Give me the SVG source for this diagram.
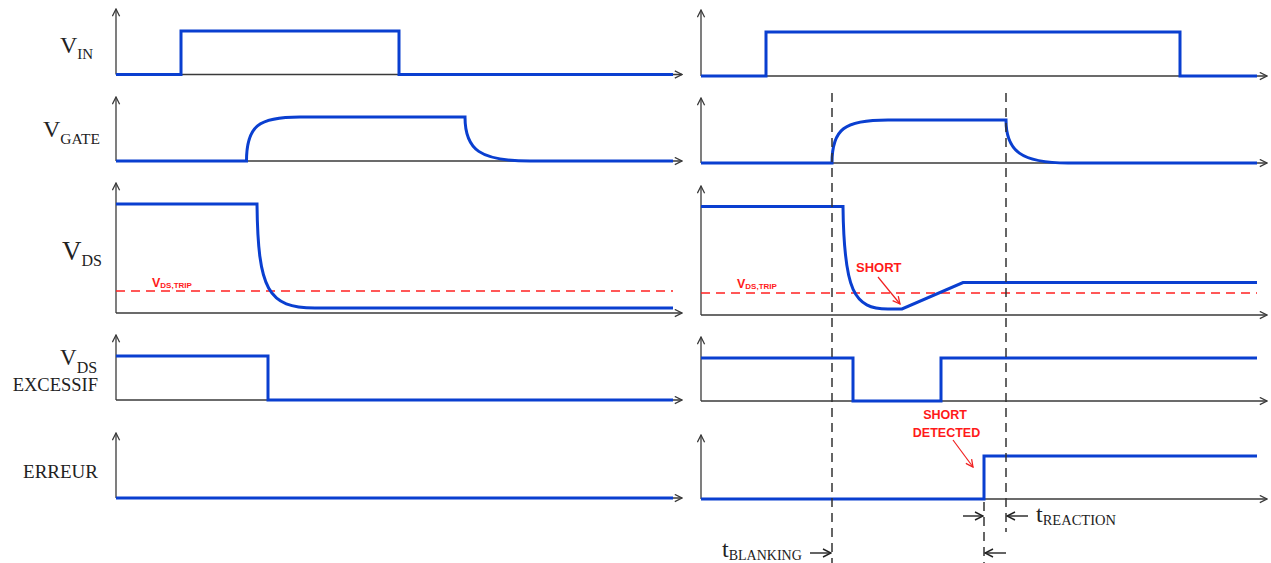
<svg xmlns="http://www.w3.org/2000/svg" width="1271" height="563" viewBox="0 0 1271 563">
<style>
.bg{fill:#ffffff}
.axis{stroke:#3a3a3a;stroke-width:1.3;fill:none}
.sig{stroke:#0a3fd0;stroke-width:3;fill:none;stroke-linejoin:miter}
.trip{stroke:#ff2020;stroke-width:1.4;fill:none;stroke-dasharray:9 6}
.guide{stroke:#333;stroke-width:1.5;fill:none;stroke-dasharray:9 6}
.tarr{stroke:#222;stroke-width:1.4;fill:none}
.rarr{stroke:#f02020;stroke-width:1.2;fill:none}
.lbl{font-family:"Liberation Serif","Times New Roman",serif;fill:#222}
.red{font-family:"Liberation Sans",Arial,sans-serif;font-weight:bold;fill:#ff1a1a}
</style>
<defs>
<marker id="ax" viewBox="0 0 10 10" refX="9" refY="5" markerWidth="9" markerHeight="9" markerUnits="userSpaceOnUse" orient="auto">
<path d="M1,1 L9,5 L1,9" fill="none" stroke="#3a3a3a" stroke-width="1.4"/>
</marker>
<marker id="tk" viewBox="0 0 10 10" refX="9" refY="5" markerWidth="10" markerHeight="10" markerUnits="userSpaceOnUse" orient="auto">
<path d="M1,1 L9,5 L1,9" fill="none" stroke="#222" stroke-width="1.4"/>
</marker>
<marker id="ra" viewBox="0 0 10 10" refX="9" refY="5" markerWidth="9" markerHeight="9" markerUnits="userSpaceOnUse" orient="auto">
<path d="M1,1 L9,5 L1,9" fill="none" stroke="#f02020" stroke-width="1.4"/>
</marker>
</defs>
<rect class="bg" x="0" y="0" width="1271" height="563"/>

<g id="row-vin">
<text class="lbl" x="60" y="53" font-size="24">V<tspan font-size="15" dy="6">IN</tspan></text>
<path class="axis" d="M116,74.5 V9" marker-end="url(#ax)"/>
<path class="axis" d="M116,74.5 H682" marker-end="url(#ax)"/>
<path class="sig" d="M116,74.5 H181 V31 H399 V74.5 H673"/>
<path class="axis" d="M701,76 V10" marker-end="url(#ax)"/>
<path class="axis" d="M701,76 H1267" marker-end="url(#ax)"/>
<path class="sig" d="M701,76 H766 V32 H1180 V76 H1257"/>
</g>

<g id="row-vgate">
<text class="lbl" x="43" y="137" font-size="24">V<tspan font-size="15.5" dy="7">GATE</tspan></text>
<path class="axis" d="M116,161 V97" marker-end="url(#ax)"/>
<path class="axis" d="M116,161 H682" marker-end="url(#ax)"/>
<path class="sig" d="M116,161 H246.5 C246.5,126 258,117 300,117 H465 C465,150 480,161 530,161 H673"/>
<path class="axis" d="M701,163 V98" marker-end="url(#ax)"/>
<path class="axis" d="M701,163 H1267" marker-end="url(#ax)"/>
<path class="sig" d="M701,163 H832 C832,129 844,120 888,120 H1006 C1006,151 1021,163 1068,163 H1257"/>
</g>

<g id="row-vds">
<text class="lbl" x="62" y="260" font-size="27">V<tspan font-size="16" dy="6">DS</tspan></text>
<path class="axis" d="M116,313 V183" marker-end="url(#ax)"/>
<path class="axis" d="M116,313 H682" marker-end="url(#ax)"/>
<path class="trip" d="M116,291 H673"/>
<text class="red" x="152" y="287" font-size="12.5">V<tspan font-size="8" dy="1">DS,TRIP</tspan></text>
<path class="sig" d="M116,204 H257 C258,290 268,308 315,308 H673"/>
<path class="axis" d="M701,315 V186" marker-end="url(#ax)"/>
<path class="axis" d="M701,315 H1267" marker-end="url(#ax)"/>
<path class="trip" d="M701,293 H1257"/>
<text class="red" x="737" y="288" font-size="12.5">V<tspan font-size="8" dy="1">DS,TRIP</tspan></text>
<path class="sig" d="M701,206.5 H843 C844,291 854,309 888,309 H902 L963,282.5 H1257"/>
<text class="red" x="856" y="272" font-size="13">SHORT</text>
<path class="rarr" d="M878,277 L900,304" marker-end="url(#ra)"/>
</g>

<g id="row-vds-excessif">
<text class="lbl" x="60" y="365" font-size="23">V<tspan font-size="16" dy="8">DS</tspan></text>
<text class="lbl" x="98" y="391" font-size="18.5" text-anchor="end">EXCESSIF</text>
<path class="axis" d="M116,400 V335" marker-end="url(#ax)"/>
<path class="axis" d="M116,400 H682" marker-end="url(#ax)"/>
<path class="sig" d="M116,356 H268 V400 H673"/>
<path class="axis" d="M701,401 V337" marker-end="url(#ax)"/>
<path class="axis" d="M701,401 H1267" marker-end="url(#ax)"/>
<path class="sig" d="M701,358 H853 V401 H941 V358 H1257"/>
</g>

<g id="row-erreur">
<text class="lbl" x="98" y="478" font-size="19" text-anchor="end">ERREUR</text>
<path class="axis" d="M116,498 V433" marker-end="url(#ax)"/>
<path class="axis" d="M116,498 H682" marker-end="url(#ax)"/>
<path class="sig" d="M116,498 H673"/>
<path class="axis" d="M701,499 V435" marker-end="url(#ax)"/>
<path class="axis" d="M701,499 H1267" marker-end="url(#ax)"/>
<path class="sig" d="M701,499 H984 V456 H1257"/>
<text class="red" x="945" y="419" font-size="12.5" text-anchor="middle">SHORT</text>
<text class="red" x="946.5" y="437" font-size="12.5" text-anchor="middle">DETECTED</text>
<path class="rarr" d="M953,440 L973,467" marker-end="url(#ra)"/>
</g>

<g id="connectors">
<path class="guide" d="M832,93 V563"/>
<path class="guide" d="M1006,93 V532"/>
<path class="guide" d="M984,502 V563"/>
<path class="tarr" d="M963,516 H983" marker-end="url(#tk)"/>
<path class="tarr" d="M1028,516 H1007" marker-end="url(#tk)"/>
<path class="tarr" d="M810,553 H831" marker-end="url(#tk)"/>
<path class="tarr" d="M1006,553 H985" marker-end="url(#tk)"/>
<text class="lbl" x="1036" y="522" font-size="24">t<tspan font-size="14.5" dy="3">REACTION</tspan></text>
<text class="lbl" x="722" y="557" font-size="24">t<tspan font-size="14" dy="3">BLANKING</tspan></text>
</g>
</svg>
